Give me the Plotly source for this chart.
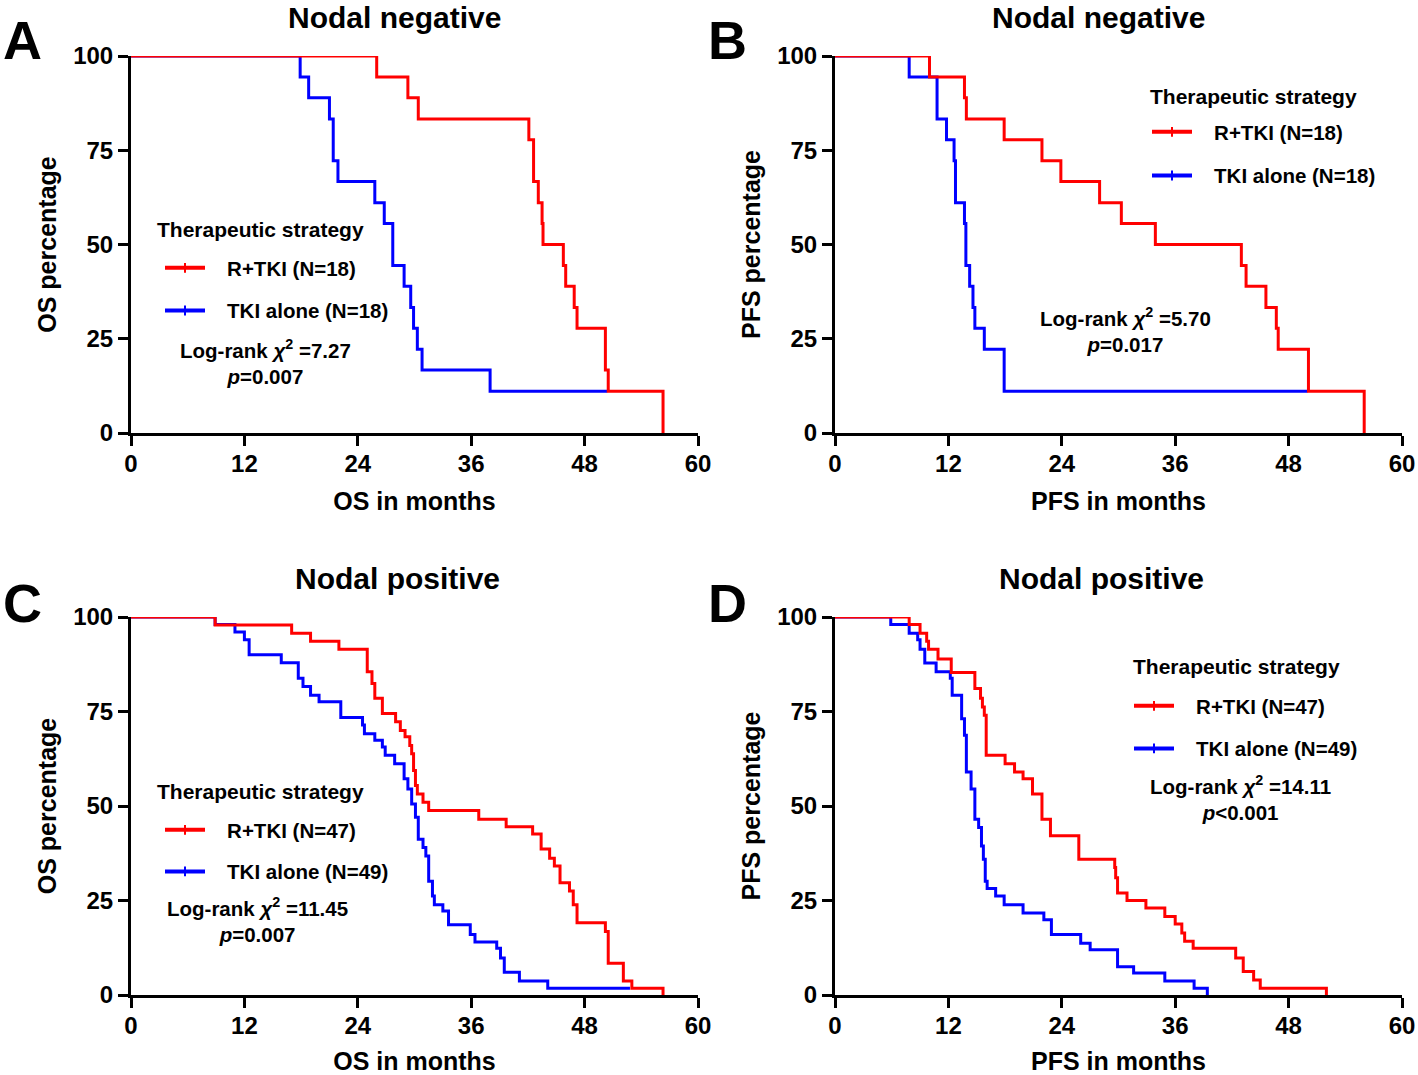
import plotly.graph_objects as go

# ---------------- data ----------------
# Panel A: OS, nodal negative
A_red_t = [0, 26.0, 29.3, 30.4, 42.1, 42.6, 43.1, 43.5, 43.6, 45.75, 46.0, 46.9, 47.2, 50.2, 50.5, 56.3]
A_red_s = [100, 94.4, 88.9, 83.3, 77.8, 66.7, 61.1, 55.6, 50.0, 44.4, 38.9, 33.3, 27.8, 16.7, 11.1, 0]
A_blue_t = [0, 17.9, 18.8, 21.0, 21.4, 21.9, 25.8, 26.8, 27.7, 28.9, 29.6, 29.9, 30.3, 30.8, 38.0, 50.4]
A_blue_s = [100, 94.4, 88.9, 83.3, 72.2, 66.7, 61.1, 55.6, 44.4, 38.9, 33.3, 27.8, 22.2, 16.7, 11.1, 11.1]

# Panel B: PFS, nodal negative
B_red_t = [0, 10.0, 13.7, 13.9, 17.9, 21.9, 23.9, 28.0, 30.3, 33.9, 43.0, 43.5, 45.6, 46.7, 46.9, 50.1, 56.0]
B_red_s = [100, 94.4, 88.9, 83.3, 77.8, 72.2, 66.7, 61.1, 55.6, 50.0, 44.4, 38.9, 33.3, 27.8, 22.2, 11.1, 0]
B_blue_t = [0, 7.85, 10.8, 11.8, 12.6, 12.75, 13.7, 13.85, 14.25, 14.6, 14.8, 15.8, 17.9, 50.0]
B_blue_s = [100, 94.4, 83.3, 77.8, 72.2, 61.1, 55.6, 44.4, 38.9, 33.3, 27.8, 22.2, 11.1, 11.1]

# Panel C: OS, nodal positive
C_red_t = [0, 8.9, 17.0, 19.0, 22.0, 25.0, 25.5, 25.8, 26.6, 28.0, 28.5, 29.0, 29.5, 29.7, 29.9,
           30.1, 30.3, 30.9, 31.5, 36.8, 39.7, 42.5, 43.4, 44.3, 44.8, 45.4, 46.4, 46.8, 47.2,
           50.2, 50.5, 52.1, 53.0, 56.3]
C_red_s = [100, 97.9, 95.7, 93.6, 91.5, 85.5, 82.4, 78.5, 74.5, 72.3, 70.0, 68.3, 66.0, 63.8, 59.4,
           55.4, 53.2, 51.0, 48.8, 46.5, 44.5, 42.6, 38.6, 36.2, 34.1, 29.7, 27.5, 23.9, 19.1,
           16.8, 8.4, 3.7, 1.8, 0]
C_blue_t = [0, 8.9, 11.0, 12.0, 12.5, 15.9, 17.7, 18.2, 19.0, 19.9, 22.2, 24.5, 24.7, 25.8, 26.6,
            26.9, 27.9, 28.9, 29.3, 29.7, 30.1, 30.4, 30.9, 31.2, 31.5, 31.9, 32.1, 33.0, 33.6,
            35.9, 36.4, 38.7, 39.1, 39.5, 41.1, 44.1, 52.8]
C_blue_s = [100, 98.0, 96.0, 94.0, 90.0, 87.9, 83.8, 81.6, 79.3, 77.6, 73.4, 71.4, 69.1, 67.4, 65.6,
            63.4, 61.2, 57.2, 54.5, 50.5, 47.0, 41.2, 39.0, 36.8, 30.1, 26.2, 23.9, 22.2, 18.6,
            16.0, 14.0, 12.4, 9.8, 6.0, 3.7, 1.8, 1.8]

# Panel D: PFS, nodal positive
D_red_t = [0, 7.85, 9.0, 9.7, 9.9, 10.9, 12.3, 14.8, 15.4, 15.6, 15.8, 16.0, 18.0, 19.0, 19.9, 20.9,
           21.9, 22.8, 25.8, 29.6, 29.7, 29.9, 30.9, 32.9, 34.9, 36.0, 36.7, 37.0, 37.9, 42.4,
           43.2, 44.3, 45.0, 52.0]
D_red_s = [100, 98.0, 95.7, 93.6, 91.5, 88.9, 85.3, 81.1, 78.5, 76.2, 74.0, 63.4, 61.2, 59.0, 57.2, 53.2,
           46.5, 42.1, 35.9, 33.7, 31.0, 27.0, 25.0, 23.0, 20.8, 18.8, 16.4, 14.2, 12.4, 9.8,
           6.2, 4.0, 1.8, 0]
D_blue_t = [0, 5.9, 7.85, 8.75, 9.0, 9.5, 10.7, 12.2, 12.4, 13.4, 13.7, 13.9, 14.4, 14.8, 15.2, 15.5,
            15.7, 15.9, 16.1, 17.0, 17.9, 19.9, 22.1, 22.9, 26.0, 27.0, 29.9, 31.6, 34.9, 38.0, 39.4]
D_blue_s = [100, 98.0, 95.7, 94.0, 91.5, 87.8, 85.5, 83.8, 79.3, 73.1, 68.7, 59.0, 54.5, 46.5, 44.3, 39.4,
            35.9, 30.1, 28.2, 26.2, 23.9, 21.7, 19.9, 16.0, 13.7, 12.0, 7.5, 5.8, 3.7, 1.8, 0]

x_ticks = [0, 12, 24, 36, 48, 60]
y_ticks = [0, 25, 50, 75, 100]

panel_letters = ["A", "B", "C", "D"]
panel_titles = ["Nodal negative", "Nodal negative", "Nodal positive", "Nodal positive"]
x_titles = ["OS in months", "PFS in months", "OS in months", "PFS in months"]
y_titles = ["OS percentage", "PFS percentage", "OS percentage", "PFS percentage"]
red_names = ["R+TKI (N=18)", "R+TKI (N=18)", "R+TKI (N=47)", "R+TKI (N=47)"]
blue_names = ["TKI alone (N=18)", "TKI alone (N=18)", "TKI alone (N=49)", "TKI alone (N=49)"]
chi_vals = ["7.27", "5.70", "11.45", "14.11"]
p_vals = ["=0.007", "=0.017", "=0.007", "<0.001"]

legend_title = "Therapeutic strategy"

RED = "#FF0000"
BLUE = "#0000FF"

panels = [
    (A_red_t, A_red_s, A_blue_t, A_blue_s),
    (B_red_t, B_red_s, B_blue_t, B_blue_s),
    (C_red_t, C_red_s, C_blue_t, C_blue_s),
    (D_red_t, D_red_s, D_blue_t, D_blue_s),
]

# ---------------- layout geometry ----------------
W, H = 1418, 1075
def px_x(v):
    return v / W
def px_y(v):
    return 1 - v / H

x_domains = [(131, 698), (835, 1402), (131, 698), (835, 1402)]
y_domains = [(56, 433), (56, 433), (617, 995), (617, 995)]

# legend item block (top-left), legend title (left, centre-y), stats centre, letters, titles (pixels)
legend_pos = [(160, 248), (1147, 112), (160, 810), (1129, 686)]
legtitle_pos = [(155, 229), (1148, 96), (155, 791), (1131, 666)]
legend_gaps = [13, 14, 12, 13]
stat_pos = [(265, 362), (1125, 330), (257, 920), (1240, 798)]
letter_pos = [(22, 40), (727, 40), (22, 603), (727, 603)]
title_pos = [(394, 17), (1098, 17), (397, 578), (1101, 578)]

NB = "&nbsp;&nbsp;&nbsp;"

fig = go.Figure()
layout = dict(
    template="none",
    width=W, height=H,
    margin=dict(l=0, r=0, t=0, b=0, autoexpand=False),
    paper_bgcolor="white", plot_bgcolor="white",
    font=dict(family="Liberation Sans, Arial, sans-serif", color="black", weight="bold", size=20),
    showlegend=True,
    annotations=[],
)

for i, (rt, rs, bt, bs) in enumerate(panels):
    k = "" if i == 0 else str(i + 1)
    xa, ya = "x" + k, "y" + k
    leg = "legend" + k
    # data traces
    fig.add_trace(go.Scatter(x=bt, y=bs, mode="lines", line=dict(color=BLUE, width=3, shape="hv"),
                             showlegend=False, xaxis=xa, yaxis=ya, hoverinfo="skip"))
    fig.add_trace(go.Scatter(x=rt, y=rs, mode="lines", line=dict(color=RED, width=3, shape="hv"),
                             showlegend=False, xaxis=xa, yaxis=ya, hoverinfo="skip"))
    # legend entries
    fig.add_trace(go.Scatter(x=[None], y=[None], mode="lines+markers", name=NB + red_names[i],
                             line=dict(color=RED, width=4),
                             marker=dict(symbol="line-ns", size=7, color=RED, line=dict(width=2, color=RED)),
                             legend=leg, legendgroup="r" + str(i), xaxis=xa, yaxis=ya))
    fig.add_trace(go.Scatter(x=[None], y=[None], mode="lines+markers", name=NB + blue_names[i],
                             line=dict(color=BLUE, width=4),
                             marker=dict(symbol="line-ns", size=7, color=BLUE, line=dict(width=2, color=BLUE)),
                             legend=leg, legendgroup="b" + str(i), xaxis=xa, yaxis=ya))

    x0, x1 = x_domains[i]
    y0, y1 = y_domains[i]
    layout["xaxis" + k] = dict(
        domain=[px_x(x0), px_x(x1)], anchor=ya, range=[0, 60], tickvals=x_ticks,
        showline=True, linewidth=3, linecolor="black", ticks="outside", ticklen=10,
        tickwidth=3, tickcolor="black", showgrid=False, zeroline=False, automargin=False,
        tickfont=dict(size=24), fixedrange=True, ticklabelstandoff=-3,
        title=dict(text=x_titles[i], font=dict(size=25), standoff=17),
    )
    layout["yaxis" + k] = dict(
        domain=[px_y(y1), px_y(y0)], anchor=xa, range=[0, 100], tickvals=y_ticks,
        showline=True, linewidth=3, linecolor="black", ticks="outside", ticklen=10,
        tickwidth=3, tickcolor="black", showgrid=False, zeroline=False, automargin=False,
        tickfont=dict(size=24), fixedrange=True,
        title=dict(text=y_titles[i], font=dict(size=25), standoff=10),
    )
    lx, ly = legend_pos[i]
    layout[leg] = dict(
        x=px_x(lx), y=px_y(ly), xanchor="left", yanchor="top",
        font=dict(size=20.5), tracegroupgap=legend_gaps[i], itemwidth=40,
        bgcolor="rgba(0,0,0,0)", borderwidth=0,
    )
    tlx, tly = legtitle_pos[i]
    layout["annotations"].append(dict(
        x=px_x(tlx), y=px_y(tly), xref="paper", yref="paper", showarrow=False,
        xanchor="left", yanchor="middle", text=legend_title, font=dict(size=21),
    ))
    sx, sy = stat_pos[i]
    layout["annotations"].append(dict(
        x=px_x(sx), y=px_y(sy), xref="paper", yref="paper", showarrow=False,
        xanchor="center", yanchor="middle", align="center",
        text="Log-rank <i>χ</i><sup>2</sup> =" + chi_vals[i] + "<br><i>p</i>" + p_vals[i],
        font=dict(size=20.5),
    ))
    ax_, ay_ = letter_pos[i]
    layout["annotations"].append(dict(
        x=px_x(ax_), y=px_y(ay_), xref="paper", yref="paper", showarrow=False,
        xanchor="center", yanchor="middle", text=panel_letters[i], font=dict(size=54),
    ))
    tx, ty = title_pos[i]
    layout["annotations"].append(dict(
        x=px_x(tx), y=px_y(ty), xref="paper", yref="paper", showarrow=False,
        xanchor="center", yanchor="middle", text=panel_titles[i], font=dict(size=30),
    ))

fig.update_layout(**layout)
fig.write_html(
    "out.html",
    config={"displayModeBar": False},
    post_script="document.body.style.margin='0';document.body.style.overflow='hidden';",
)
